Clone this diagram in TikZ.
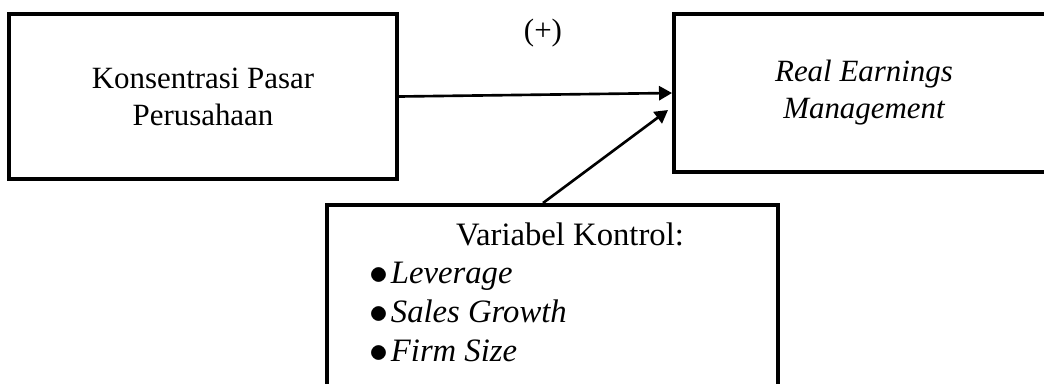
\documentclass[tikz,border=0pt]{standalone}
\usepackage{fontspec}
\setmainfont{Liberation Serif}
\usetikzlibrary{arrows.meta, positioning, calc}

\newcommand{\titik}{\raisebox{-1pt}{\scalebox{1.25}{$\bullet$}}\hspace{1.5pt}}

\begin{document}
\begin{tikzpicture}[x=0.02cm, y=-0.02cm, >={Triangle[length=7.4pt, width=8pt]},
  font=\fontsize{17.6}{21}\selectfont,
  box/.style={draw, line width=2.3pt, align=center, inner sep=0pt},
  arr/.style={->, line width=1.5pt},
  ctrl/.style={font=\fontsize{18.6}{22}\selectfont}]

\useasboundingbox (0,0) rectangle (1044,383);
\clip (0,0) rectangle (1044,383);

% --- independent variable (left) ---
\node[box, minimum width=7.76cm, minimum height=3.3cm] (pasar) at (203, 96.5) {Konsentrasi Pasar\\Perusahaan};

% --- dependent variable (right, runs off the page) ---
\node[box, minimum width=7.6cm, minimum height=3.16cm, font=\fontsize{17.6}{21}\selectfont\itshape] (rem) at (864, 93) {Real Earnings\\Management};

% --- control variables (bottom, runs off the page) ---
\node[box, anchor=north, minimum width=9.02cm, minimum height=4cm] (kontrol) at (552.5, 203) {};
\node[ctrl, anchor=base] (judul) at (570, 245) {Variabel Kontrol:};
\foreach \v [count=\i] in {Leverage, Sales Growth, Firm Size}
  \node[ctrl, anchor=base west, inner sep=0pt] (var\i) at (369, 244+39*\i) {\titik\textit{\v}};

% --- relations ---
\draw[arr] (pasar.east) -- (rem.west);
\node (tanda) at (543, 33) {(+)};
\draw[arr] ([xshift=-0.19cm]kontrol.north) -- ($(rem.west)+(-4,17)$);

\end{tikzpicture}
\end{document}
